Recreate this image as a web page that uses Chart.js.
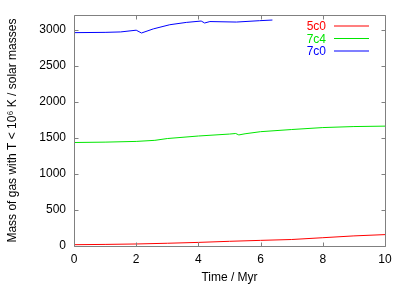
<!DOCTYPE html>
<html><head><meta charset="utf-8">
<script src="https://cdn.jsdelivr.net/npm/chart.js@4/dist/chart.umd.min.js"></script>
<style>html,body{margin:0;padding:0;background:#fff}#wrap{width:407px;height:285px;position:relative}</style>
</head><body><div id="wrap"><canvas id="c" width="407" height="285"></canvas></div>
<script>
const seriesNames = ["5c0", "7c4", "7c0"];
const seriesColors = ["#ff0000", "#00e600", "#0000ff"];
const time5c0 = [0, 1, 2, 3, 4, 5, 6, 7, 8, 9, 10];
const mass5c0 = [18, 22, 28, 38, 50, 65, 78, 90, 115, 140, 158];
const time7c4 = [0, 1, 2, 2.6, 3, 4, 5, 5.2, 5.3, 5.5, 6, 7, 8, 9, 10];
const mass7c4 = [1435, 1440, 1450, 1465, 1490, 1525, 1552, 1560, 1540, 1556, 1585, 1615, 1642, 1656, 1662];
const time7c0 = [0, 1, 1.5, 2.0, 2.17, 2.55, 3.08, 3.61, 4.09, 4.2, 4.37, 5.22, 5.97, 6.38];
const mass7c0 = [2958, 2962, 2968, 2992, 2953, 3010, 3068, 3100, 3119, 3092, 3112, 3105, 3124, 3133];
const xTicks = [0, 2, 4, 6, 8, 10];
const yTicks = [0, 500, 1000, 1500, 2000, 2500, 3000];
const xTitle = "Time / Myr";
const yTitle = "Mass of gas with T < 10\u2076 K / solar masses";

const FONT = "'Liberation Sans', Arial, Helvetica, sans-serif";
const times = [time5c0, time7c4, time7c0];
const masses = [mass5c0, mass7c4, mass7c0];
const datasets = seriesNames.map((n, i) => ({
  label: n,
  data: times[i].map((t, j) => ({x: t, y: masses[i][j]})),
  borderColor: seriesColors[i],
  backgroundColor: seriesColors[i],
  borderWidth: 1,
  pointRadius: 0,
  showLine: true,
  tension: 0
}));

const frame = {
  id: 'frame',
  afterDatasetsDraw(chart) {
    const {ctx, chartArea: a, scales: {x, y}} = chart;
    ctx.save();
    ctx.strokeStyle = '#808080';
    ctx.lineWidth = 1;
    const L = Math.round(a.left) + 0.5, R = Math.round(a.right) + 0.5;
    const T = Math.round(a.top) + 0.5, B = Math.round(a.bottom) + 0.5;
    ctx.beginPath();
    ctx.rect(L, T, R - L, B - T);
    const tl = 4;
    xTicks.forEach(v => {
      const px = Math.round(x.getPixelForValue(v)) + 0.5;
      ctx.moveTo(px, B); ctx.lineTo(px, B - tl);
      ctx.moveTo(px, T); ctx.lineTo(px, T + tl);
    });
    yTicks.forEach(v => {
      const py = Math.round(y.getPixelForValue(v)) + 0.5;
      ctx.moveTo(L, py); ctx.lineTo(L + tl, py);
      ctx.moveTo(R, py); ctx.lineTo(R - tl, py);
    });
    ctx.stroke();
    // legend
    ctx.font = '12px ' + FONT;
    ctx.textAlign = 'right';
    ctx.textBaseline = 'middle';
    seriesNames.forEach((n, i) => {
      const yy = 26 + i * 12.5;
      ctx.fillStyle = seriesColors[i];
      ctx.fillText(n, 326, yy + 1);
      ctx.strokeStyle = seriesColors[i];
      ctx.lineWidth = 1.2;
      ctx.beginPath();
      ctx.moveTo(334, yy);
      ctx.lineTo(369, yy);
      ctx.stroke();
    });
    ctx.restore();
  }
};

new Chart(document.getElementById('c'), {
  type: 'scatter',
  data: {datasets},
  options: {
    responsive: false,
    animation: false,
    devicePixelRatio: 1,
    layout: {padding: {top: 15, right: 22, left: 0, bottom: 0}},
    plugins: {legend: {display: false}, tooltip: {enabled: false}},
    scales: {
      x: {
        type: 'linear', min: 0, max: 10,
        afterBuildTicks: s => { s.ticks = xTicks.map(v => ({value: v})); },
        afterFit: s => { s.height = 39; },
        grid: {display: false, drawTicks: false},
        border: {display: false},
        ticks: {color: '#000', font: {family: FONT, size: 12}, padding: 6, maxRotation: 0, callback: v => String(v)},
        title: {display: true, text: xTitle, color: '#000', font: {family: FONT, size: 12}, padding: {top: 4, bottom: 0}}
      },
      y: {
        type: 'linear', min: 0, max: 3200,
        afterBuildTicks: s => { s.ticks = yTicks.map(v => ({value: v})); },
        afterFit: s => { s.width = 74; },
        grid: {display: false, drawTicks: false},
        border: {display: false},
        ticks: {color: '#000', font: {family: FONT, size: 12}, padding: 8, callback: v => String(v)},
        title: {display: true, text: yTitle, color: '#000', font: {family: FONT, size: 12}, padding: {top: 5, bottom: 0}}
      }
    }
  },
  plugins: [frame]
});
</script></body></html>
